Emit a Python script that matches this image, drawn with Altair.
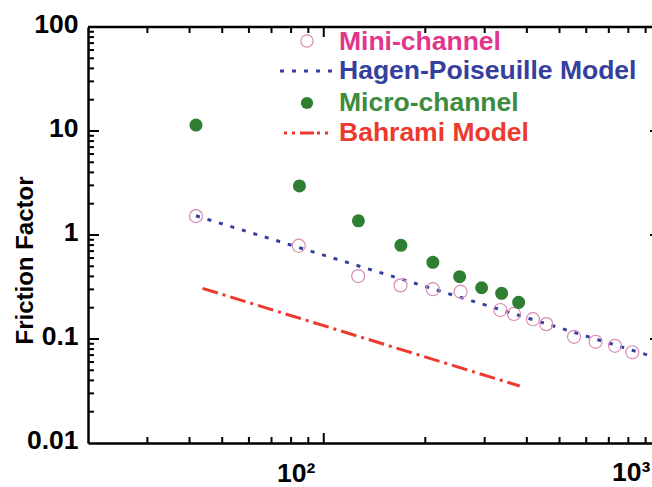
import altair as alt
import pandas as pd

FONT = "Liberation Sans"

# ---- data ----
mini_re = [41.8, 84.3, 126.5, 168.9, 210.6, 254.5, 333.8, 366.4, 417, 457, 552, 640, 730, 822]
mini_f = [1.52, 0.789, 0.403, 0.328, 0.301, 0.285, 0.190, 0.174, 0.155, 0.139, 0.105, 0.094, 0.086, 0.0745]

micro_re = [41.8, 84.7, 126.7, 169.3, 210.6, 252.8, 293.8, 336.8, 378.2]
micro_f = [11.4, 2.96, 1.37, 0.796, 0.546, 0.397, 0.311, 0.275, 0.225]

hp_re = [41.8, 1000]
hp_f = [1.53, 0.064]

bah_re = [43.7, 381]
bah_f = [0.307, 0.0353]

legend_labels = ["Mini-channel", "Hagen-Poiseuille Model", "Micro-channel", "Bahrami Model"]

x_major = [100]
x_minor = [30, 40, 50, 60, 70, 80, 90, 200, 300, 400, 500, 600, 700, 800, 900]
y_major = [0.1, 1, 10]
y_minor = [m * d for d in [0.01, 0.1, 1, 10] for m in [2, 3, 4, 5, 6, 7, 8, 9]]

y_tick_values = [0.01, 0.1, 1, 10, 100]
x_tick_values = [100]
x_extra_label_re = [1000]
x_extra_label_txt = ["10³"]

# ---- colours ----
C_MINI_TXT = "#e2358c"
C_MINI_PT = "#d88cb4"
C_HP = "#34409c"
C_MICRO = "#2f7f33"
C_MICRO_TXT = "#3d8c3d"
C_BAH = "#ec3a2e"

W, H = 564, 416
FS = 26.5
XLAB_PAD = 17

xscale = alt.Scale(type="log", domain=[20, 940], nice=False)
yscale = alt.Scale(type="log", domain=[0.01, 100], nice=False)

xaxis = alt.Axis(values=x_tick_values,
                 labelExpr="'10²'",
                 ticks=False, grid=False, domainWidth=2.5, domainColor="black",
                 labelFont=FONT, labelFontSize=FS, labelFontWeight="bold",
                 labelColor="black", labelPadding=XLAB_PAD, labelOffset=-28,
                 labelFlush=False, labelOverlap=False, labelBound=False)
yaxis = alt.Axis(values=y_tick_values, format="~g",
                 ticks=False, grid=False, domainWidth=2.5, domainColor="black",
                 labelFont=FONT, labelFontSize=FS, labelFontWeight="bold",
                 labelColor="black", labelPadding=10, labelOffset=-3,
                 labelFlush=False, labelOverlap=False,
                 titleFont=FONT, titleFontSize=24, titleFontWeight="bold",
                 titleColor="black", titleX=-63, titleY=233, titleAngle=270,
                 titleAlign="center", titleBaseline="middle")

X = alt.X("re:Q", scale=xscale, axis=xaxis, title=None)
Y = alt.Y("f:Q", scale=yscale, axis=yaxis, title="Friction Factor")

mini_df = pd.DataFrame({"re": mini_re, "f": mini_f})
micro_df = pd.DataFrame({"re": micro_re, "f": micro_f})
hp_df = pd.DataFrame({"re": hp_re, "f": hp_f})
bah_df = pd.DataFrame({"re": bah_re, "f": bah_f})

hp_line = alt.Chart(hp_df).mark_line(color=C_HP, strokeWidth=3, strokeDash=[4, 8], clip=True).encode(x=X, y=Y)
bah_line = alt.Chart(bah_df).mark_line(color=C_BAH, strokeWidth=3, strokeDash=[16, 5, 3, 5]).encode(x=X, y=Y)
mini_pts = alt.Chart(mini_df).mark_point(shape="circle", filled=False, color=C_MINI_PT,
                                         strokeWidth=1.2, size=170, opacity=1).encode(x=X, y=Y)
micro_pts = alt.Chart(micro_df).mark_point(shape="circle", filled=True, color=C_MICRO,
                                           size=170, opacity=1).encode(x=X, y=Y)

# label for the 10^3 decade, which sits at the cropped right edge
x_extra = alt.Chart(pd.DataFrame({"re": x_extra_label_re, "t": x_extra_label_txt})).mark_text(
    align="center", baseline="top", font=FONT, fontSize=FS, fontWeight="bold",
    color="black", dx=-30, dy=0
).encode(x=X, text="t:N", y=alt.value(H + XLAB_PAD))

# ---- inward frame ticks ----
def xticks(vals, length, top):
    df = pd.DataFrame({"re": vals})
    if top:
        y1, y2 = 0, length
    else:
        y1, y2 = H, H - length
    return alt.Chart(df).mark_rule(color="black", strokeWidth=2).encode(
        x=X, y=alt.value(y1), y2=alt.value(y2))

def yticks(vals, length):
    df = pd.DataFrame({"f": vals})
    return alt.Chart(df).mark_rule(color="black", strokeWidth=2).encode(
        y=Y, x=alt.value(0), x2=alt.value(length))

right_ticks = alt.Chart(pd.DataFrame({"f": y_major})).mark_rule(color="black", strokeWidth=2).encode(
    y=Y, x=alt.value(W - 2), x2=alt.value(W))

top_line = alt.Chart(pd.DataFrame({"a": [0]})).mark_rule(color="black", strokeWidth=2.5).encode(
    x=alt.value(0), x2=alt.value(W), y=alt.value(0))

# ---- legend ----
def leg_text(label, color, y):
    return alt.Chart(pd.DataFrame({"t": [label]})).mark_text(
        align="left", baseline="middle", font=FONT, fontSize=FS, fontWeight="bold", color=color
    ).encode(text="t:N", x=alt.value(251), y=alt.value(y))

leg_mini_sym = alt.Chart(pd.DataFrame({"a": [0]})).mark_point(
    shape="circle", filled=False, color=C_MINI_PT, strokeWidth=1.2, size=150, opacity=1
).encode(x=alt.value(219), y=alt.value(14))
leg_hp_sym = alt.Chart(pd.DataFrame({"a": [0]})).mark_rule(
    color=C_HP, strokeWidth=3, strokeDash=[4, 8]
).encode(x=alt.value(192), x2=alt.value(246), y=alt.value(44))
leg_micro_sym = alt.Chart(pd.DataFrame({"a": [0]})).mark_point(
    shape="circle", filled=True, color=C_MICRO, size=150, opacity=1
).encode(x=alt.value(219), y=alt.value(76))
leg_bah_sym = alt.Chart(pd.DataFrame({"a": [0]})).mark_rule(
    color=C_BAH, strokeWidth=3, strokeDash=[3, 5, 3, 5, 14, 3]
).encode(x=alt.value(196), x2=alt.value(243), y=alt.value(106))

legend = [
    leg_mini_sym, leg_text(legend_labels[0], C_MINI_TXT, 15),
    leg_hp_sym, leg_text(legend_labels[1], C_HP, 44),
    leg_micro_sym, leg_text(legend_labels[2], C_MICRO_TXT, 76),
    leg_bah_sym, leg_text(legend_labels[3], C_BAH, 106),
]

chart = alt.layer(
    hp_line, bah_line, mini_pts, micro_pts,
    xticks(x_minor, 6, False), xticks(x_major, 10, False),
    xticks(x_minor, 6, True), xticks(x_major, 10, True),
    yticks(y_minor, 6), yticks(y_major, 11),
    right_ticks, top_line, x_extra,
    *legend
).properties(
    width=W, height=H,
    autosize="none",
    padding={"left": 88, "top": 27, "right": 0, "bottom": 44},
    background="white",
).configure_view(stroke=None)

chart.save("out.html", embed_options={"renderer": "svg", "actions": False})
